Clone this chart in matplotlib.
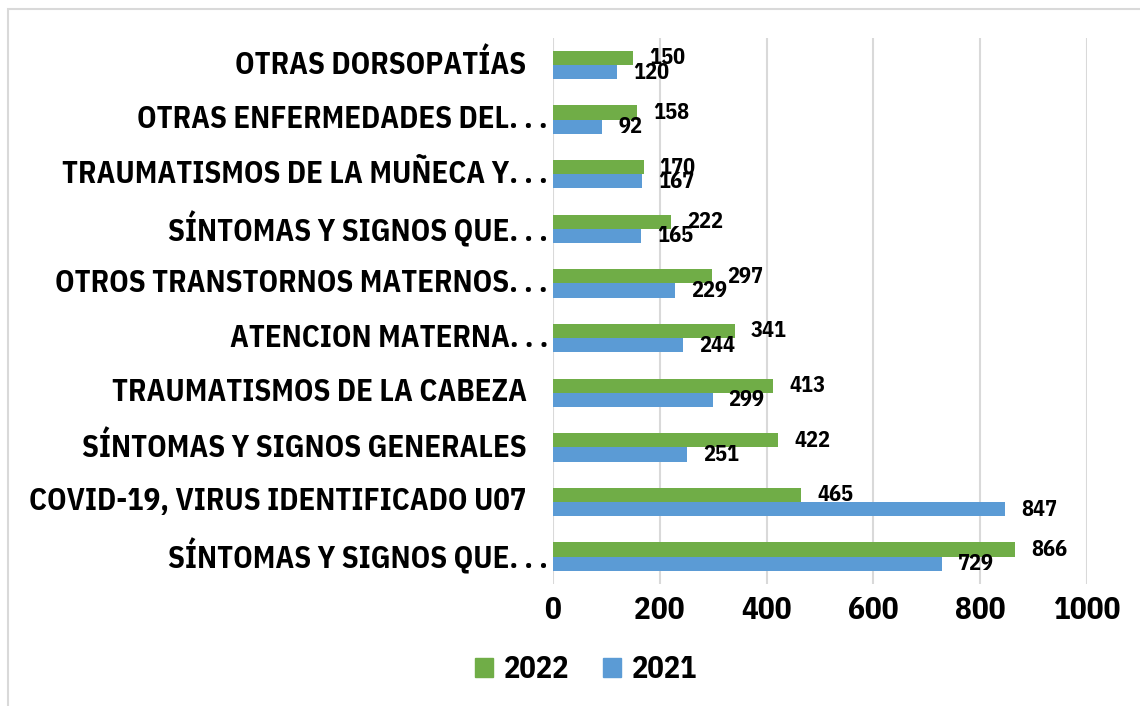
import numpy as np
import matplotlib.pyplot as plt
import matplotlib.patches as mpatches
import matplotlib.transforms as mtransforms

plt.rcParams["font.family"] = ["IBM Plex Sans Condensed", "DejaVu Sans"]
plt.rcParams["font.weight"] = "bold"

ELL = ".\u2009.\u2009."
categories = [
    "SÍNTOMAS Y SIGNOS QUE" + ELL,
    "COVID-19, VIRUS IDENTIFICADO U07 ",
    "SÍNTOMAS Y SIGNOS GENERALES ",
    "TRAUMATISMOS DE LA CABEZA ",
    "ATENCION MATERNA" + ELL,
    "OTROS TRANSTORNOS MATERNOS" + ELL,
    "SÍNTOMAS Y SIGNOS QUE" + ELL,
    "TRAUMATISMOS DE LA MUÑECA Y" + ELL,
    "OTRAS ENFERMEDADES DEL" + ELL,
    "OTRAS DORSOPATÍAS ",
]
vals_2022 = [866, 465, 422, 413, 341, 297, 222, 170, 158, 150]
vals_2021 = [729, 847, 251, 299, 244, 229, 165, 167, 92, 120]
xticks = [0, 200, 400, 600, 800, 1000]

green, blue = "#70AD47", "#5B9BD5"

fig = plt.figure(figsize=(11.4, 7.06), dpi=100)
ax = fig.add_axes([0.485, 0.173, 0.4685, 0.7736])

y = np.arange(len(categories))
h = 0.26
b1 = ax.barh(y + h / 2, vals_2022, height=h, color=green, label="2022", zorder=3)
b2 = ax.barh(y - h / 2, vals_2021, height=h, color=blue, label="2021", zorder=3)

for bars in (b1, b2):
    for r in bars:
        ax.annotate(f"{int(r.get_width())}", (r.get_width(), r.get_y() + r.get_height() / 2),
                    xytext=(11.5, 0), textcoords="offset points", ha="left", va="center",
                    fontsize=16, fontweight="bold", color="black", zorder=4)

ax.set_xlim(0, 1000)
ax.set_ylim(-0.5, len(categories) - 0.5)
ax.set_xticks(xticks)
ax.set_xticklabels([str(t) for t in xticks], fontsize=22.5, fontweight="bold")
ax.set_yticks(y)
ax.set_yticklabels([])
ax.tick_params(axis="both", length=0)
ax.tick_params(axis="x", pad=9)
ax.grid(axis="x", color="#d9d9d9", lw=1.5, zorder=0)
for s in ax.spines.values():
    s.set_visible(False)

# category labels: trailing space in the label = extra gap (as in the source chart)
base = mtransforms.blended_transform_factory(ax.transAxes, ax.transData)
for yi, lab in zip(y, categories):
    gap = 19 if lab.endswith(" ") else 3.5
    tr = base + mtransforms.ScaledTranslation(-gap / 72, 0, fig.dpi_scale_trans)
    ax.text(0, yi, lab.rstrip(), transform=tr, ha="right", va="center",
            fontsize=22, fontweight="bold", clip_on=False)

handles = [mpatches.Patch(color=green, label="2022"), mpatches.Patch(color=blue, label="2021")]
fig.legend(handles=handles, loc="center", bbox_to_anchor=(0.514, 0.051), ncol=2, frameon=False,
           fontsize=22, handlelength=0.6, handleheight=0.6, handletextpad=0.35, columnspacing=1.1)

fig.patches.append(mpatches.Rectangle((0.007, -0.01), 1.0, 0.997, transform=fig.transFigure,
                                      fill=False, edgecolor="#d9d9d9", lw=1.5))

fig.savefig("out.png", dpi=100)
